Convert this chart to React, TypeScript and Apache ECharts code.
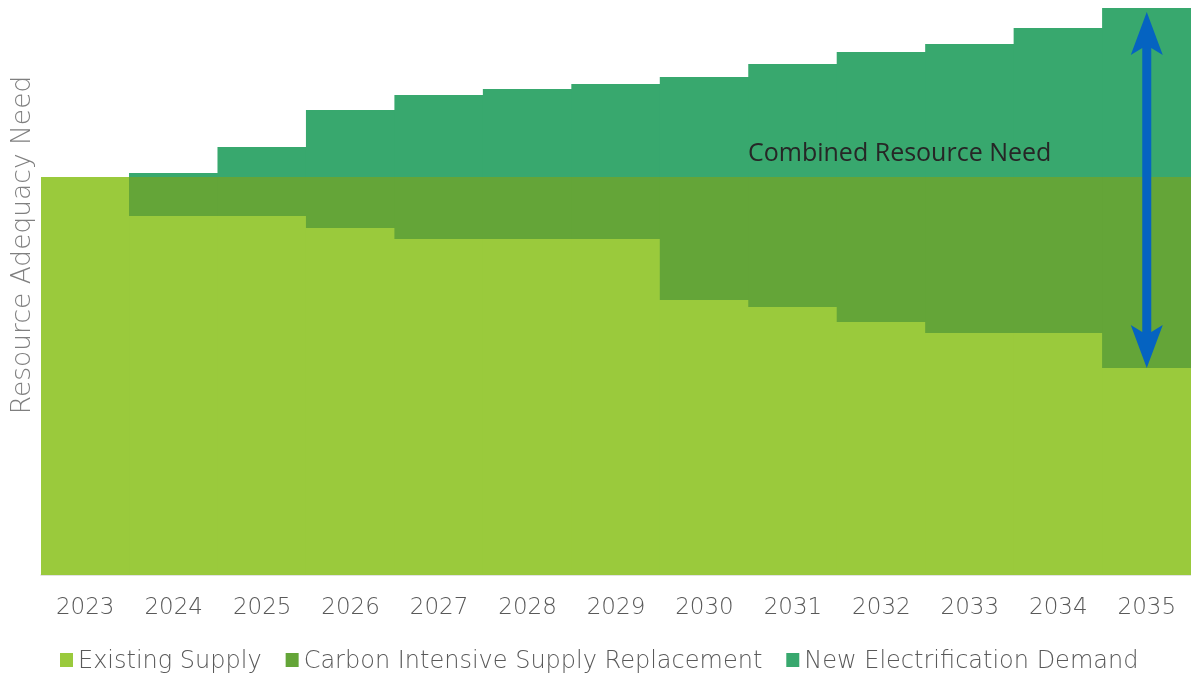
import React, { useEffect, useRef } from "react";
import * as echarts from "echarts";

const years = ["2023", "2024", "2025", "2026", "2027", "2028", "2029", "2030", "2031", "2032", "2033", "2034", "2035"];
const existingSupply = [398, 359, 359, 347, 336, 336, 336, 275, 268, 253, 242, 242, 207];
const carbonReplacement = [0, 39, 39, 51, 62, 62, 62, 123, 130, 145, 156, 156, 191];
const newElectrification = [0, 4, 30, 67, 82, 88, 93, 100, 113, 125, 133, 149, 169];
const yMax = 567;
const seriesNames = ["Existing Supply", "Carbon Intensive Supply Replacement", "New Electrification Demand"];
const colors = ["#9ACA3C", "#64A538", "#38A86E"];
const annotationText = "Combined Resource Need";
const axisName = "Resource Adequacy Need";

export default function App() {
  const ref = useRef<HTMLDivElement>(null);
  useEffect(() => {
    if (!ref.current) return;
    const chart = echarts.init(ref.current, undefined, { renderer: "svg" });
    const font = "'DejaVu Sans', sans-serif";
    const mkSeries = (i: number, data: number[]) => ({
      name: seriesNames[i],
      type: "bar",
      stack: "total",
      data,
      barWidth: "101%",
      itemStyle: { color: colors[i] },
    });
    chart.setOption({
      animation: false,
      grid: { left: 41, right: 0, top: 8, bottom: 101, containLabel: false },
      legend: {
        bottom: -1,
        left: 55,
        icon: "rect",
        itemWidth: 13,
        itemHeight: 14,
        itemGap: 24,
        textStyle: { fontFamily: font, fontSize: 24, fontWeight: 200, color: "#595959" },
        data: seriesNames,
      },
      xAxis: {
        type: "category",
        data: years,
        boundaryGap: true,
        axisLine: { show: true, lineStyle: { color: "#d9d9d9", width: 1.5 } },
        axisTick: { show: false },
        axisLabel: { fontFamily: font, fontSize: 23, fontWeight: 200, color: "#595959", margin: 19 },
      },
      yAxis: {
        type: "value",
        min: 0,
        max: yMax,
        axisLabel: { show: false },
        axisLine: { show: false },
        axisTick: { show: false },
        splitLine: { show: false },
      },
      series: [
        mkSeries(0, existingSupply),
        mkSeries(1, carbonReplacement),
        mkSeries(2, newElectrification),
      ],
    });

    const last = years.length - 1;
    const total = existingSupply[last] + carbonReplacement[last] + newElectrification[last];
    const top = chart.convertToPixel({ gridIndex: 0 }, [last, total]) as number[];
    const bot = chart.convertToPixel({ gridIndex: 0 }, [last, existingSupply[last]]) as number[];
    const cx = top[0];
    const yT = top[1] + 4;
    const yB = bot[1];
    const hw = 16, sw = 4.5, hh = 43, notch = 36;
    const points = [
      [cx, yT], [cx + hw, yT + hh], [cx + sw, yT + notch], [cx + sw, yB - notch], [cx + hw, yB - hh],
      [cx, yB], [cx - hw, yB - hh], [cx - sw, yB - notch], [cx - sw, yT + notch], [cx - hw, yT + hh],
    ];
    chart.setOption({
      graphic: [
        { type: "polygon", shape: { points }, style: { fill: "#0563C1" }, z: 100 },
        {
          type: "text",
          x: 748,
          y: 151,
          style: {
            text: annotationText,
            fontFamily: "'Open Sans', sans-serif",
            fontSize: 25,
            fill: "#262626",
            textAlign: "left",
            textVerticalAlign: "middle",
          },
          z: 100,
        },
        {
          type: "text",
          x: 20,
          y: 245,
          rotation: Math.PI / 2,
          style: {
            text: axisName,
            fontFamily: font,
            fontSize: 26.5,
            fontWeight: 200,
            fill: "#7f7f7f",
            textAlign: "center",
            textVerticalAlign: "middle",
          },
          z: 100,
        },
      ],
    });
    return () => chart.dispose();
  }, []);
  return <div ref={ref} style={{ position: "fixed", left: 0, top: 0, width: 1191, height: 676 }} />;
}
